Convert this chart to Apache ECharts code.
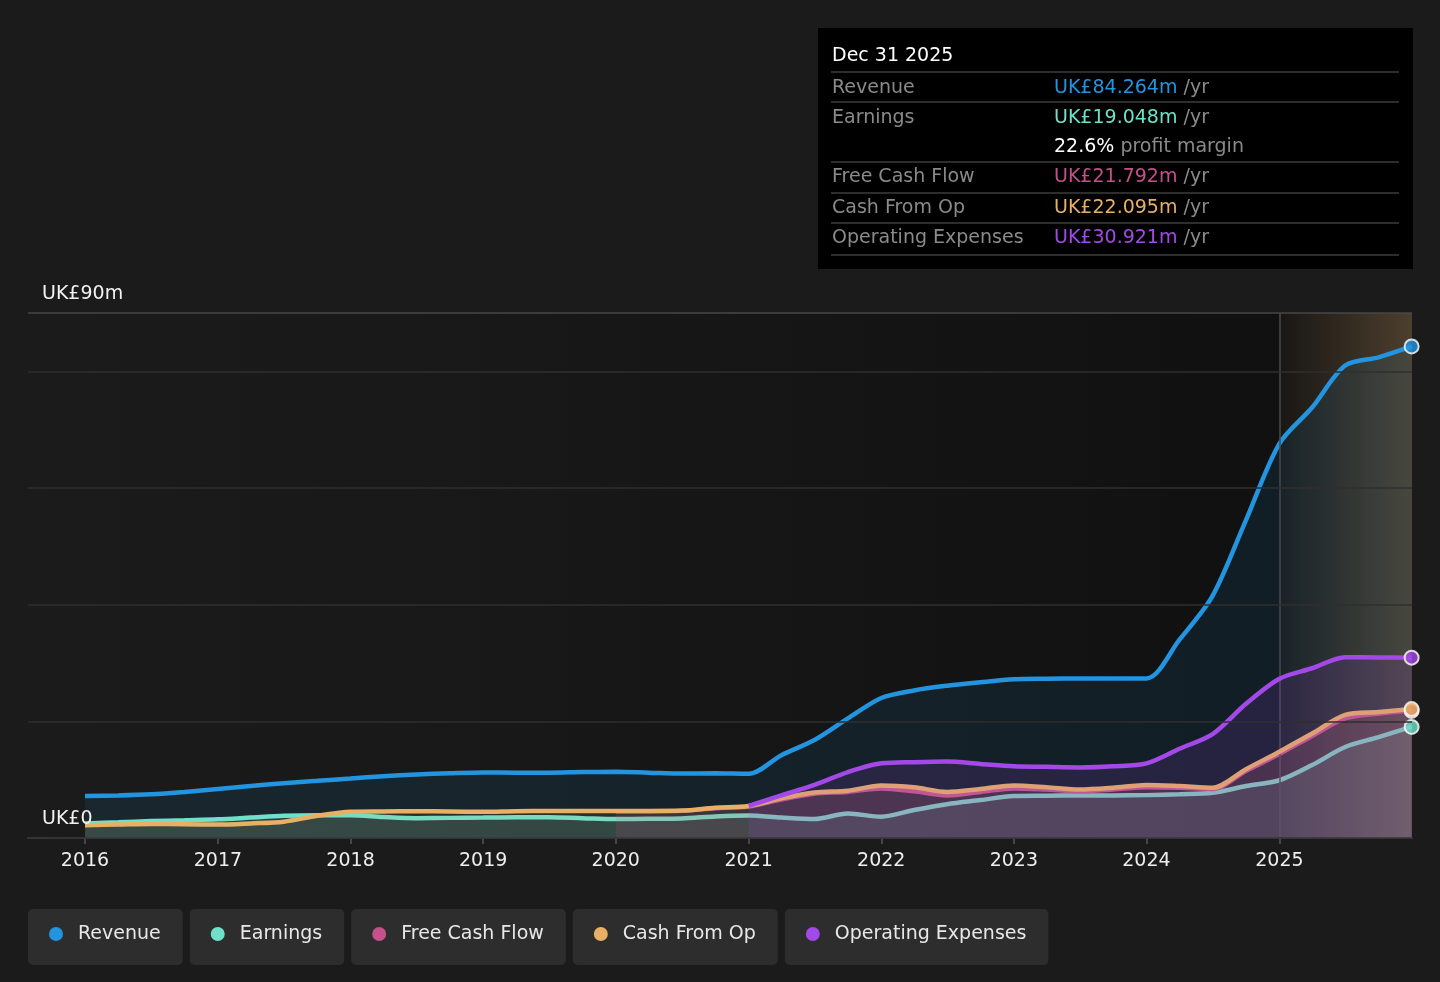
<!DOCTYPE html>
<html><head><meta charset="utf-8">
<script src="https://cdn.jsdelivr.net/npm/echarts@6/dist/echarts.min.js"></script>
<style>html,body{margin:0;padding:0;background:#1b1b1b;}#c{width:1440px;height:982px;}</style>
</head><body><div id="c"></div>
<script>
// ---- data (UK£ millions, trailing twelve months) ----
const dates = ['2016-01-01','2016-04-01','2016-07-01','2016-10-01','2017-01-01','2017-04-01','2017-07-01','2017-10-01',
'2018-01-01','2018-04-01','2018-07-01','2018-10-01','2019-01-01','2019-04-01','2019-07-01','2019-10-01',
'2020-01-01','2020-04-01','2020-07-01','2020-10-01','2021-01-01','2021-04-01','2021-07-01','2021-10-01',
'2022-01-01','2022-04-01','2022-07-01','2022-10-01','2023-01-01','2023-04-01','2023-07-01','2023-10-01',
'2024-01-01','2024-04-01','2024-07-01','2024-10-01','2025-01-01','2025-04-01','2025-07-01','2025-10-01','2025-12-31'];
const revenue = [7.2,7.3,7.5,7.9,8.4,8.9,9.4,9.8,10.2,10.6,10.9,11.1,11.25,11.2,11.2,11.3,11.35,11.2,11.05,11.1,11.0,14.2,16.8,20.5,
24.0,25.3,26.1,26.7,27.2,27.3,27.35,27.35,27.35,34.0,41.5,54.5,67.6,73.8,81.0,82.4,84.264];
const earnings = [2.5,2.7,2.9,3.05,3.2,3.5,3.8,3.9,3.9,3.6,3.4,3.45,3.5,3.55,3.55,3.4,3.25,3.3,3.35,3.7,3.85,3.5,3.25,4.2,
3.65,4.8,5.8,6.5,7.2,7.25,7.3,7.3,7.35,7.5,7.75,8.9,9.9,12.5,15.6,17.3,19.048];
const freeCashFlow = [null,null,null,null,null,null,null,null,null,null,null,null,null,null,null,null,
4.6,4.6,4.65,5.1,5.4,6.6,7.6,7.9,8.5,8.0,7.3,7.9,8.5,8.3,8.0,8.3,8.7,8.6,8.4,11.5,14.4,17.5,20.5,21.3,21.792];
const cashFromOp = [2.2,2.3,2.4,2.35,2.3,2.5,2.8,3.8,4.5,4.55,4.6,4.55,4.5,4.6,4.65,4.65,4.65,4.65,4.7,5.2,5.5,6.8,7.8,8.1,
9.0,8.7,7.9,8.4,9.0,8.7,8.3,8.6,9.1,8.9,8.6,11.8,14.8,17.9,21.1,21.6,22.095];
const operatingExpenses = [null,null,null,null,null,null,null,null,null,null,null,null,null,null,null,null,null,null,null,null,
5.5,7.3,9.1,11.3,12.8,13.0,13.1,12.7,12.3,12.2,12.1,12.3,12.8,15.3,17.8,23.0,27.3,29.1,31.0,30.95,30.921];
const seriesNames = ['Revenue','Earnings','Free Cash Flow','Cash From Op','Operating Expenses'];
const xTickYears = [2016,2017,2018,2019,2020,2021,2022,2023,2024,2025];
const yTickLabels = {0:'UK£0', 90:'UK£90m'};
const tooltipDate = 'Dec 31 2025';
const forecastStartDate = '2025-01-01';

// ---- styling ----
const FONT = 'DejaVu Sans';
const colors = ['#2394df','#6fe0c9','#c4508c','#e8b064','#a349e8'];
const fillAlpha = [0.14,0.2,0.2,0.12,0.2];
const seriesData = [revenue, earnings, freeCashFlow, cashFromOp, operatingExpenses];
const ts = d => new Date(d + 'T00:00:00Z').getTime();
const YEAR = 365.25*86400000;
const xMin = Date.UTC(2016,0,1) - 0.4296*YEAR;
const xMax = Date.UTC(2026,0,1);
const tEnd = ts(dates[dates.length-1]);
function rgba(hex,a){const n=parseInt(hex.slice(1),16);return `rgba(${n>>16},${(n>>8)&255},${n&255},${a})`;}

const lineSeries = seriesNames.map((name,i)=>({
  name, type:'line', z:2+i, smooth:0.3, showSymbol:false, symbol:'none', silent:true,
  data: dates.map((d,k)=>[ts(d), seriesData[i][k]]).filter(p=>p[1]!==null),
  lineStyle:{width:4.5,color:colors[i]}, itemStyle:{color:colors[i]},
  areaStyle:{color:rgba(colors[i],fillAlpha[i])}
}));

const endOrder = [0,4,2,3,1];
const endSeries = {
  type:'scatter', z:20, silent:true, symbolSize:14,
  data: endOrder.map(i=>({value:[tEnd, seriesData[i][seriesData[i].length-1]], itemStyle:{color:colors[i], borderColor:'#ffffff', borderWidth:2}}))
};

const overlaySeries = {
  type:'line', z:10, silent:true, data:[[xMax,null]], symbol:'none',
  markArea:{silent:true, itemStyle:{color:{type:'linear',x:0,y:0,x2:1,y2:0,colorStops:[
    {offset:0,color:'rgba(255,195,125,0.03)'},{offset:1,color:'rgba(255,200,130,0.25)'}]}},
    data:[[{xAxis:ts(forecastStartDate)},{xAxis:xMax}]]},
  markLine:{silent:true, symbol:'none', label:{show:false}, animation:false,
    lineStyle:{color:'#4a4a4a', width:1.5, type:'solid'}, data:[{xAxis:ts(forecastStartDate)}]}
};

// ---- tooltip-like panel ----
const last = a => a[a.length-1];
const fmt = v => 'UK£' + v.toFixed(3) + 'm';
const panelRows = [
  {label:'Revenue', y:87, rich:[['v0',fmt(last(revenue))],['g',' /yr']]},
  {label:'Earnings', y:117, rich:[['v1',fmt(last(earnings))],['g',' /yr']]},
  {label:'', y:146, rich:[['w',(last(earnings)/last(revenue)*100).toFixed(1)+'%'],['g',' profit margin']]},
  {label:'Free Cash Flow', y:176, rich:[['v2',fmt(last(freeCashFlow))],['g',' /yr']]},
  {label:'Cash From Op', y:207, rich:[['v3',fmt(last(cashFromOp))],['g',' /yr']]},
  {label:'Operating Expenses', y:237, rich:[['v4',fmt(last(operatingExpenses))],['g',' /yr']]}
];
const richStyles = {g:{fill:'#8a8a8a',fontSize:19,fontFamily:FONT}, w:{fill:'#ffffff',fontSize:19,fontFamily:FONT}};
colors.forEach((c,i)=>richStyles['v'+i]={fill:c,fontSize:19,fontFamily:FONT});
const graphics = [
  {type:'rect', z:100, shape:{x:818,y:28,width:595,height:241}, style:{fill:'#000000'}},
  {type:'text', z:101, x:832, y:56, style:{text:tooltipDate, fill:'#ffffff', fontSize:19, fontFamily:FONT, verticalAlign:'middle'}}
];
[72,102,162,193,223,255].forEach(y=>graphics.push({type:'line', z:101, shape:{x1:831,y1:y,x2:1399,y2:y}, style:{stroke:'#3c3c3c', lineWidth:1.5}}));
panelRows.forEach(r=>{
  if(r.label) graphics.push({type:'text', z:101, x:832, y:r.y+1, style:{text:r.label, fill:'#8a8a8a', fontSize:19, fontFamily:FONT, verticalAlign:'middle'}});
  graphics.push({type:'text', z:101, x:1054, y:r.y+1, style:{text:r.rich.map(p=>`{${p[0]}|${p[1]}}`).join(''), rich:richStyles, fontSize:19, fontFamily:FONT, verticalAlign:'middle'}});
});

// ---- legend rich ----
const legendRich = {sp:{width:15}};
colors.forEach((c,i)=>legendRich['d'+i]={width:14,height:14,borderRadius:7,backgroundColor:c,verticalAlign:'middle'});

const chart = echarts.init(document.getElementById('c'), null, {renderer:'canvas'});
chart.setOption({
  backgroundColor:'#1b1b1b',
  animation:false,
  textStyle:{fontFamily:FONT},
  grid:{left:28,right:28,top:313,bottom:144,show:true,borderWidth:0,
    backgroundColor:{type:'linear',x:0,y:0,x2:1,y2:0,colorStops:[{offset:0,color:'#1b1b1b'},{offset:0.35,color:'#181818'},{offset:0.85,color:'#111111'},{offset:1,color:'#111111'}]}},
  xAxis:{type:'value', min:xMin, max:xMax, scale:true,
    axisLine:{onZero:false, lineStyle:{color:'#555555',width:1.5}},
    axisTick:{show:true,length:6,lineStyle:{color:'#555555',width:1.5},customValues:xTickYears.map(y=>Date.UTC(y,0,1))},
    axisLabel:{color:'#eeeeee',fontSize:19,fontFamily:FONT,margin:14,
      customValues:xTickYears.map(y=>Date.UTC(y,0,1)), formatter:v=>String(new Date(v).getUTCFullYear())},
    splitLine:{show:false}},
  yAxis:{type:'value', min:0, max:90, interval:20, z:30,
    axisLine:{show:false}, axisTick:{show:false},
    splitLine:{lineStyle:{color:['#2f2f2f','#2f2f2f','#2f2f2f','#2f2f2f','#2f2f2f','#474747'],width:1.5}},
    axisLabel:{inside:true, margin:14, verticalAlign:'bottom', padding:[0,0,9,0], color:'#f2f2f2', fontSize:19, fontFamily:FONT,
      formatter:v=>yTickLabels[v]||''}},
  legend:{left:18, top:904, itemGap:2, itemWidth:0, itemHeight:0, icon:'circle', selectedMode:false, data:seriesNames,
    formatter:name=>`{d${seriesNames.indexOf(name)}|}{sp|}${name}`,
    textStyle:{color:'#e8e8e8', fontSize:19, fontFamily:FONT, backgroundColor:'#2d2d2d', borderRadius:5, padding:[14,22,20,21], lineHeight:22, rich:legendRich}},
  series:[...lineSeries, overlaySeries, endSeries],
  graphic:graphics
});
</script></body></html>
